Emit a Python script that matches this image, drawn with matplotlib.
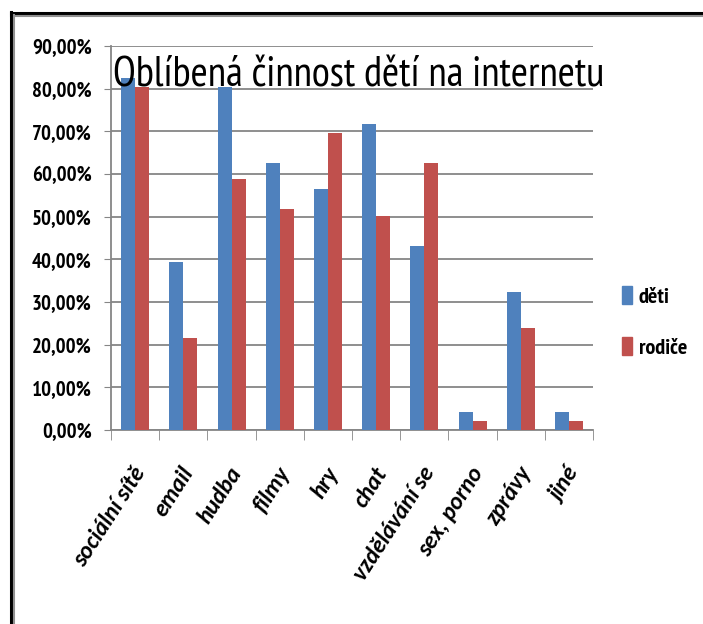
import matplotlib
matplotlib.use("Agg")
import matplotlib.pyplot as plt
import matplotlib.transforms as mtransforms
import numpy as np
from matplotlib.patches import Patch
from matplotlib.lines import Line2D

categories = ["sociální sítě", "email", "hudba", "filmy", "hry", "chat",
              "vzdělávání se", "sex, porno", "zprávy", "jiné"]
deti = [82.4, 39.3, 80.4, 62.6, 56.4, 71.7, 43.2, 4.2, 32.4, 4.2]
rodice = [80.4, 21.5, 58.8, 51.8, 69.6, 50.1, 62.6, 2.1, 24.0, 2.1]
yticks = [0, 10, 20, 30, 40, 50, 60, 70, 80, 90]

blue = "#4F81BD"
red = "#C0504D"
grid = "#868686"
narrow = ["PT Sans Narrow", "Carlito", "DejaVu Sans"]
plt.rcParams["font.family"] = narrow

fig = plt.figure(figsize=(7.03, 6.24), dpi=100)
ax = fig.add_axes([0.158, 0.3109, 0.6856, 0.6154])

x = np.arange(len(categories))
w = 0.29
ax.bar(x - w / 2, deti, w, color=blue, zorder=3)
ax.bar(x + w / 2, rodice, w, color=red, zorder=3)

ax.set_xlim(-0.5, len(categories) - 0.5)
ax.set_ylim(0, 90)
ax.set_yticks(yticks)
ax.set_yticklabels([f"{v},00%" for v in yticks], fontsize=15, fontweight="bold")
ax.yaxis.grid(True, color=grid, linewidth=1.3, zorder=0)
ax.tick_params(axis="y", length=5, color=grid, pad=9)

ax.set_xticks(x)
ax.set_xticklabels(categories, rotation=57, ha="right", rotation_mode="anchor",
                   fontsize=17, fontweight="bold", fontstyle="italic",
                   family=["Carlito", "DejaVu Sans"])
ax.tick_params(axis="x", length=0, pad=24)
shift = mtransforms.ScaledTranslation(-3 / 100, 0, fig.dpi_scale_trans)
for lab in ax.get_xticklabels():
    lab.set_transform(lab.get_transform() + shift)
ax.set_xticks(np.arange(-0.5, len(categories)), minor=True)
ax.tick_params(axis="x", which="minor", length=7, color=grid)

for s in ["top", "right"]:
    ax.spines[s].set_visible(False)
for s in ["left", "bottom"]:
    ax.spines[s].set_color(grid)
    ax.spines[s].set_linewidth(1.3)

fig.text(0.161, 0.862, "Oblíbená činnost dětí na internetu", fontsize=30,
         ha="left", va="baseline")

handles = [Patch(color=blue), Patch(color=red)]
fig.legend(handles, ["děti", "rodiče"], loc="center left",
           bbox_to_anchor=(0.885, 0.484), frameon=False,
           prop={"size": 16, "weight": "bold"}, handlelength=0.45,
           handleheight=0.85, handletextpad=0.3, labelspacing=1.35,
           borderpad=0, borderaxespad=0)

# frame of the chart area (top and left visible)
fig.add_artist(Line2D([0.0156, 1.0], [1 - 13 / 624] * 2, transform=fig.transFigure,
                      color="black", linewidth=2.2))
fig.add_artist(Line2D([0.0156, 1.0], [1 - 15.5 / 624] * 2, transform=fig.transFigure,
                      color="#909090", linewidth=1.5))
fig.add_artist(Line2D([11 / 703] * 2, [0.0, 1 - 12 / 624], transform=fig.transFigure,
                      color="black", linewidth=2.2))
fig.add_artist(Line2D([13.5 / 703] * 2, [0.0, 1 - 15 / 624], transform=fig.transFigure,
                      color="#909090", linewidth=1.5))

fig.savefig("out.png", dpi=100)
